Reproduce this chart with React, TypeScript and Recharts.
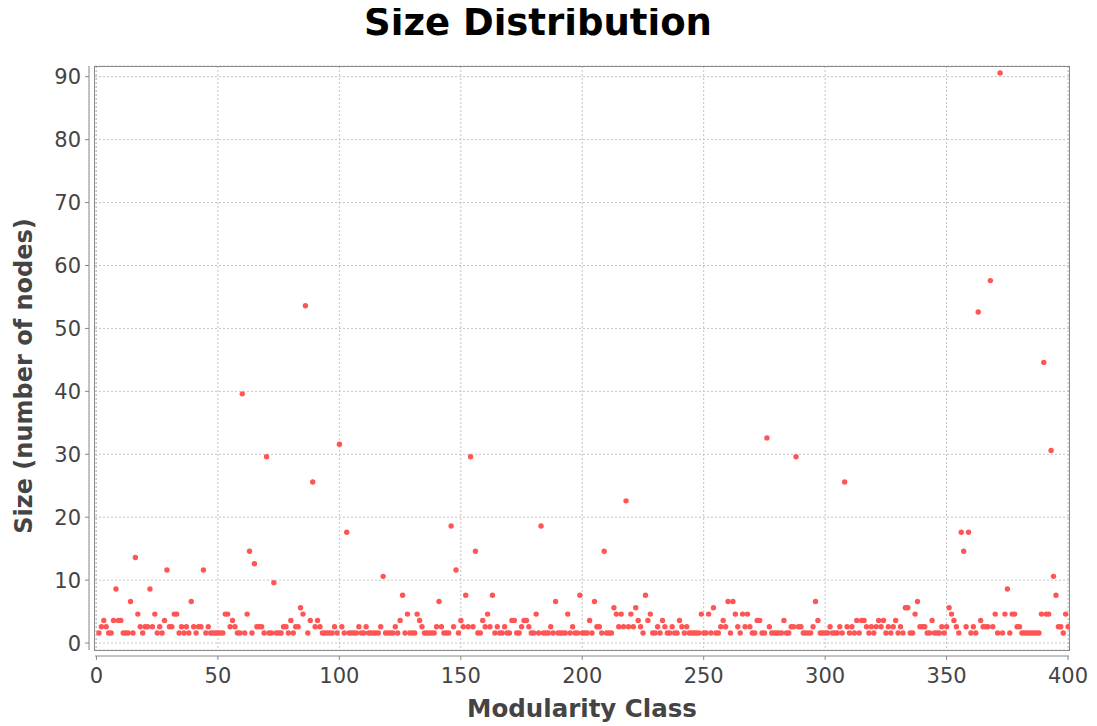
import { ScatterChart, Scatter, XAxis, YAxis, CartesianGrid } from 'recharts';

// community size per modularity class (class id = index)
const sizes: number[] = [
  2, 3, 4, 3, 2, 2, 4, 9, 4, 4, 2, 2, 2, 7, 2, 14, 5, 3, 2, 3,
  3, 9, 3, 5, 2, 3, 2, 4, 12, 3, 3, 5, 5, 2, 3, 2, 3, 2, 7, 3,
  2, 3, 3, 12, 2, 3, 2, 2, 2, 2, 2, 2, 5, 5, 3, 4, 3, 2, 2, 40,
  2, 5, 15, 2, 13, 3, 3, 3, 2, 30, 2, 2, 10, 2, 2, 2, 3, 3, 2, 4,
  2, 3, 3, 6, 5, 54, 2, 4, 26, 3, 4, 3, 2, 2, 2, 2, 2, 3, 2, 32,
  3, 2, 18, 2, 2, 2, 2, 3, 2, 2, 3, 2, 2, 2, 2, 2, 3, 11, 2, 2,
  2, 2, 3, 2, 4, 8, 2, 5, 2, 2, 2, 5, 4, 3, 2, 2, 2, 2, 2, 3,
  7, 3, 2, 2, 2, 19, 3, 12, 2, 4, 3, 8, 3, 30, 3, 15, 2, 2, 4, 3,
  5, 3, 8, 2, 3, 2, 2, 3, 2, 2, 4, 4, 2, 2, 3, 4, 4, 3, 2, 2,
  5, 2, 19, 2, 2, 2, 3, 2, 7, 2, 2, 2, 2, 5, 2, 3, 2, 2, 8, 2,
  2, 2, 4, 2, 7, 3, 3, 2, 15, 2, 2, 2, 6, 5, 3, 5, 3, 23, 3, 5,
  3, 6, 4, 3, 2, 8, 4, 5, 2, 2, 3, 2, 4, 3, 2, 2, 3, 2, 2, 4,
  3, 2, 3, 2, 2, 2, 2, 2, 5, 2, 2, 5, 2, 6, 2, 2, 3, 4, 3, 7,
  2, 7, 5, 3, 2, 5, 3, 5, 3, 2, 2, 4, 4, 2, 2, 33, 3, 2, 2, 2,
  2, 2, 4, 2, 2, 3, 3, 30, 3, 3, 2, 2, 2, 2, 3, 7, 4, 2, 2, 2,
  2, 3, 2, 2, 2, 3, 2, 26, 3, 2, 3, 2, 4, 2, 4, 4, 3, 2, 3, 2,
  3, 4, 3, 4, 2, 3, 2, 3, 4, 2, 3, 2, 6, 6, 2, 2, 5, 7, 3, 3,
  3, 2, 2, 4, 2, 2, 2, 3, 2, 3, 6, 5, 4, 3, 2, 18, 15, 3, 18, 2,
  3, 2, 53, 4, 3, 3, 3, 58, 3, 5, 2, 91, 2, 5, 9, 2, 5, 5, 3, 3,
  2, 2, 2, 2, 2, 2, 2, 2, 5, 45, 5, 5, 31, 11, 8, 3, 3, 2, 5, 3,
];
const classes = sizes.map((_, i) => i);

const xTicks = [0, 50, 100, 150, 200, 250, 300, 350, 400];
const yTicks = [0, 10, 20, 30, 40, 50, 60, 70, 80, 90];

const data = classes.map((c, i) => ({ cls: c, size: sizes[i] }));

const DOT = '#ff5555';
const AXIS = '#888888';
const LABEL = '#444444';
const FONT = '"DejaVu Sans", sans-serif';

// java-style shape: drawn from its top-left corner, not centred
const Dot = (props: any) => {
  const { cx, cy } = props;
  if (cx == null || cy == null) return null;
  return <circle cx={cx + 2.5} cy={cy + 2.5} r={2.7} fill={DOT} />;
};

export default function App() {
  return (
    <div
      style={{
        position: 'relative', width: 1097, height: 726, margin: '-8px -8px 0 -8px',
        background: '#fff', fontFamily: FONT,
      }}
    >
      <div
        style={{
          position: 'absolute', left: 0, top: 1, width: 1076, textAlign: 'center',
          fontSize: 37, fontWeight: 'bold', color: '#000',
        }}
      >
        Size Distribution
      </div>
      <ScatterChart width={1097} height={726} margin={{ top: 66, right: 28, left: 35, bottom: 26 }}>
        <CartesianGrid stroke="#c4c4c4" strokeDasharray="2 2" />
        <XAxis
          type="number"
          dataKey="cls"
          domain={[-0.6, 400.4]}
          ticks={xTicks}
          height={50}
          tickSize={4}
          tickMargin={14}
          axisLine={{ stroke: AXIS, transform: 'translate(0,6)' }}
          tickLine={{ stroke: AXIS, transform: 'translate(0,6)' }}
          tick={{ fill: LABEL, fontSize: 21, fontFamily: FONT }}
          allowDataOverflow
        />
        <YAxis
          type="number"
          dataKey="size"
          domain={[-1.1, 91.7]}
          ticks={yTicks}
          width={60}
          tickSize={4}
          tickMargin={10}
          axisLine={{ stroke: AXIS, transform: 'translate(-6,0)' }}
          tickLine={{ stroke: AXIS, transform: 'translate(-6,0)' }}
          tick={{ fill: LABEL, fontSize: 21, fontFamily: FONT }}
          allowDataOverflow
        />
        <Scatter data={data} shape={Dot} isAnimationActive={false} />
      </ScatterChart>
      <div
        style={{
          position: 'absolute', left: 94, top: 66, width: 974, height: 583,
          border: '1px solid #8a8a8a', pointerEvents: 'none',
        }}
      />
      <div
        style={{
          position: 'absolute', left: 94, width: 976, top: 694, textAlign: 'center',
          fontSize: 24.5, fontWeight: 'bold', color: LABEL,
        }}
      >
        Modularity Class
      </div>
      <div
        style={{
          position: 'absolute', left: 24, top: 376, whiteSpace: 'nowrap',
          transform: 'translate(-50%, -50%) rotate(-90deg)',
          fontSize: 24, fontWeight: 'bold', color: LABEL,
        }}
      >
        Size (number of nodes)
      </div>
    </div>
  );
}
